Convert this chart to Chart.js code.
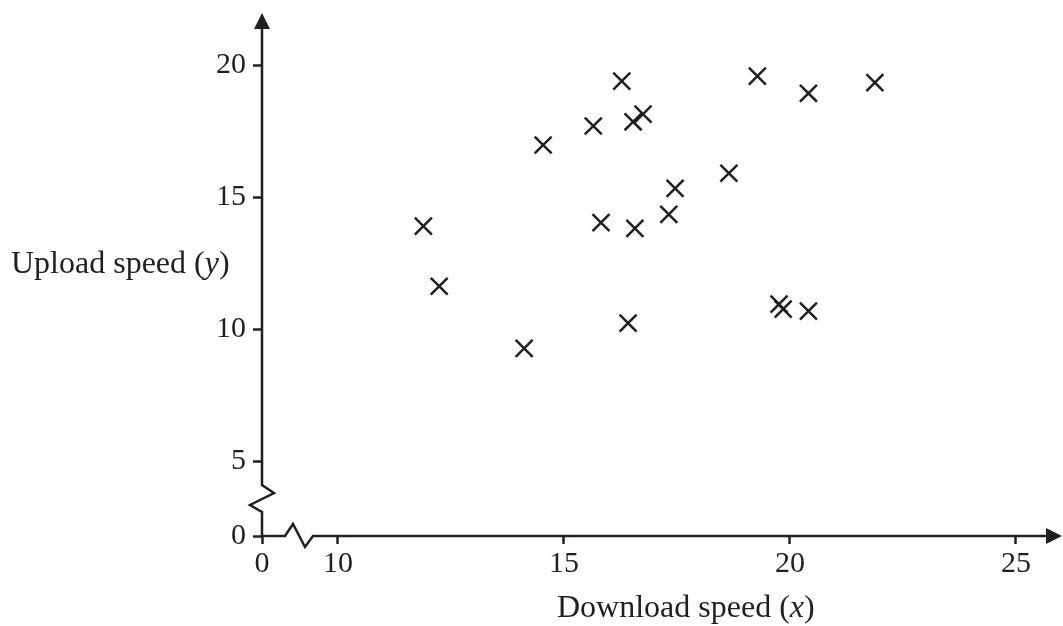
<!DOCTYPE html>
<html>
<head>
<meta charset="utf-8">
<script src="https://cdn.jsdelivr.net/npm/chart.js@4/dist/chart.umd.min.js"></script>
<style>
  html, body { margin: 0; padding: 0; background: #fff; }
  #wrap { position: relative; width: 1063px; height: 626px; }
  .axis-title {
    position: absolute;
    font-family: "Liberation Serif", "Times New Roman", serif;
    font-size: 32px;
    line-height: 1;
    color: #231f20;
    white-space: nowrap;
  }
</style>
</head>
<body>
<div id="wrap">
  <canvas id="speedChart" width="1063" height="626"></canvas>
  <div class="axis-title" style="left:11px; top:246px;">Upload speed (<i>y</i>)</div>
  <div class="axis-title" style="left:557px; top:590px;">Download speed (<i>x</i>)</div>
</div>

<script>
// scatter data
const downloadSpeed = [11.89, 12.24, 14.12, 14.54, 15.65, 15.82, 16.28, 16.42, 16.53, 16.57,
                       16.75, 17.32, 17.46, 18.65, 19.28, 19.76, 19.85, 20.41, 20.41, 21.88];
const uploadSpeed   = [13.90, 11.62, 9.27, 16.97, 17.69, 14.03, 19.39, 10.22, 17.85, 13.81,
                       18.14, 14.34, 15.33, 15.90, 19.58, 10.94, 10.75, 18.93, 10.68, 19.33];

// axes are broken: the "0" tick sits just below the start of the real range
const xTickValues = [8.32, 10, 15, 20, 25];
const xTickLabels = ["0", "10", "15", "20", "25"];
const yTickValues = [2.16, 5, 10, 15, 20];
const yTickLabels = ["0", "5", "10", "15", "20"];

const X_MIN = 8.32, X_MAX = 26.02;
const Y_MIN = 2.16, Y_MAX = 21.97;

const INK = "#231f20";
const FONT = "Liberation Serif";

const points = downloadSpeed.map((x, i) => ({ x: x, y: uploadSpeed[i] }));

// draws the axis lines with the zigzag breaks and the arrow heads
const brokenAxes = {
    id: "brokenAxes",
    afterDraw(chart) {
        const ctx = chart.ctx;
        const xs = chart.scales.x;
        const ys = chart.scales.y;
        const ox = xs.getPixelForValue(X_MIN);
        const oy = ys.getPixelForValue(Y_MIN);
        const xEnd = xs.getPixelForValue(X_MAX);
        const yEnd = ys.getPixelForValue(Y_MAX);

        ctx.save();
        ctx.strokeStyle = INK;
        ctx.fillStyle = INK;
        ctx.lineWidth = 2.5;
        ctx.lineJoin = "miter";

        // x axis
        ctx.beginPath();
        ctx.moveTo(ox, oy);
        ctx.lineTo(ox + 23, oy);
        ctx.lineTo(ox + 31, oy - 12);
        ctx.lineTo(ox + 43, oy + 11);
        ctx.lineTo(ox + 51, oy);
        ctx.lineTo(xEnd - 10, oy);
        ctx.stroke();

        ctx.beginPath();
        ctx.moveTo(xEnd, oy);
        ctx.lineTo(xEnd - 16, oy - 8);
        ctx.lineTo(xEnd - 16, oy + 8);
        ctx.closePath();
        ctx.fill();

        // y axis
        ctx.beginPath();
        ctx.moveTo(ox, oy);
        ctx.lineTo(ox, oy - 24);
        ctx.lineTo(ox - 12, oy - 31);
        ctx.lineTo(ox + 12, oy - 43);
        ctx.lineTo(ox, oy - 51);
        ctx.lineTo(ox, yEnd + 10);
        ctx.stroke();

        ctx.beginPath();
        ctx.moveTo(ox, yEnd);
        ctx.lineTo(ox - 8, yEnd + 16);
        ctx.lineTo(ox + 8, yEnd + 16);
        ctx.closePath();
        ctx.fill();

        ctx.restore();
    }
};

function noOverhang(scale) {
    scale.paddingLeft = 0;
    scale.paddingRight = 0;
    scale.paddingTop = 0;
    scale.paddingBottom = 0;
}

new Chart(document.getElementById("speedChart"), {
    type: "scatter",
    data: {
        datasets: [{
            data: points,
            pointStyle: "crossRot",
            pointRadius: 12,
            pointHoverRadius: 12,
            borderWidth: 2.5,
            borderColor: INK,
            backgroundColor: INK
        }]
    },
    options: {
        responsive: false,
        animation: false,
        events: [],
        layout: {
            autoPadding: false,
            padding: { top: 13, right: 1, left: 0, bottom: 0 }
        },
        plugins: {
            legend: { display: false },
            tooltip: { enabled: false }
        },
        scales: {
            x: {
                type: "linear",
                min: X_MIN,
                max: X_MAX,
                border: { display: false },
                grid: {
                    drawOnChartArea: false,
                    drawTicks: true,
                    tickLength: 8,
                    tickWidth: 2.5,
                    tickColor: INK
                },
                afterBuildTicks: scale => {
                    scale.ticks = xTickValues.map(v => ({ value: v }));
                },
                afterFit: scale => { scale.height = 90; noOverhang(scale); },
                ticks: {
                    autoSkip: false,
                    maxRotation: 0,
                    padding: 2,
                    color: INK,
                    font: { family: FONT, size: 30 },
                    callback: v => xTickLabels[xTickValues.indexOf(v)]
                }
            },
            y: {
                type: "linear",
                min: Y_MIN,
                max: Y_MAX,
                border: { display: false },
                grid: {
                    drawOnChartArea: false,
                    drawTicks: true,
                    tickLength: 9,
                    tickWidth: 2.5,
                    tickColor: INK
                },
                afterBuildTicks: scale => {
                    scale.ticks = yTickValues.map(v => ({ value: v }));
                },
                afterFit: scale => { scale.width = 262; noOverhang(scale); },
                ticks: {
                    autoSkip: false,
                    padding: 7,
                    color: INK,
                    font: { family: FONT, size: 30 },
                    callback: v => yTickLabels[yTickValues.indexOf(v)]
                }
            }
        }
    },
    plugins: [brokenAxes]
});
</script>
</body>
</html>
